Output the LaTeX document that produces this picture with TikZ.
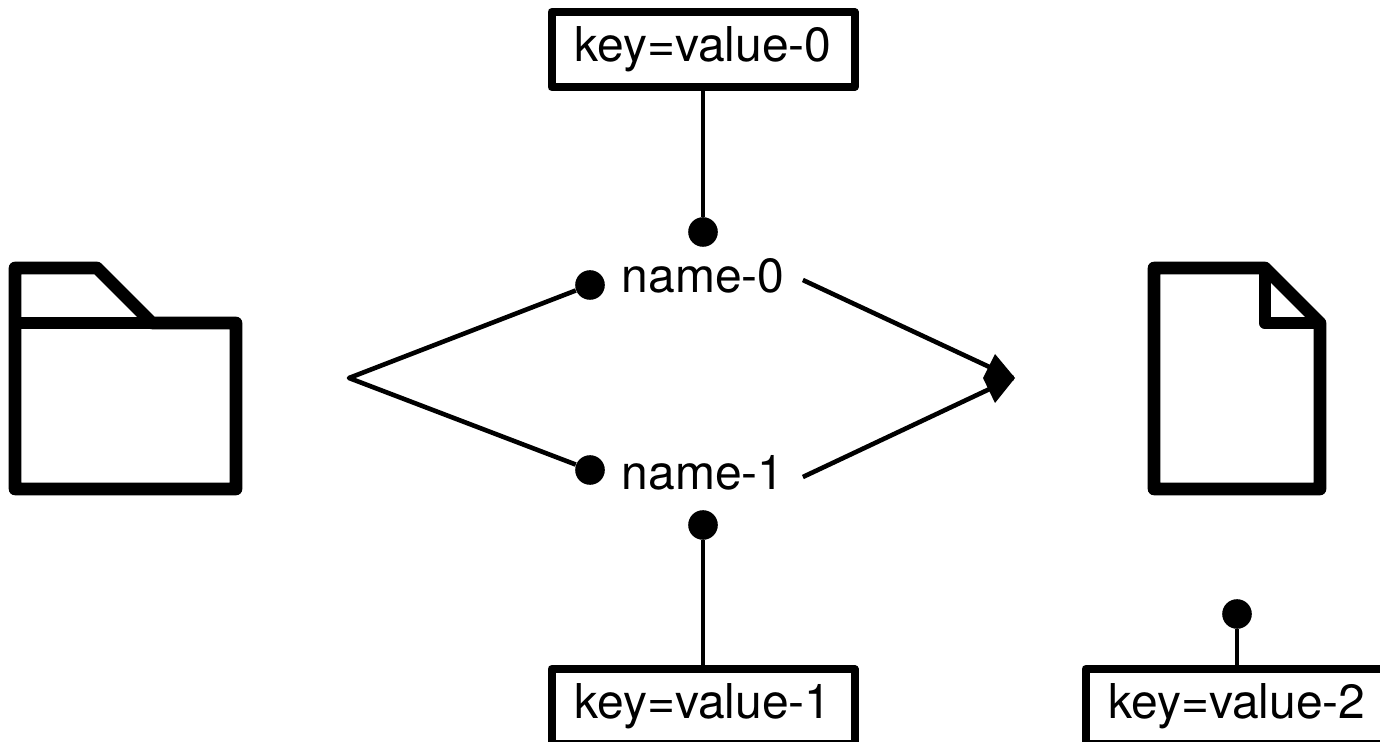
\documentclass[tikz,border=0pt]{standalone}
\usepackage{fontspec}
\setmainfont{TeX Gyre Heros}
\usetikzlibrary{positioning,calc}

\begin{document}
\begin{tikzpicture}
		[x=0.5pt,y=-0.5pt,
		line join=round,
		icon/.style={draw,line width=6.3pt},
		wire/.style={draw,line width=2.3pt},
		namenode/.style={inner xsep=9.25pt,inner ysep=0pt,outer sep=0pt,text height=17pt,text depth=4.5pt,font=\fontsize{24}{28}\selectfont},
		keynode/.style={draw,line width=4pt,inner sep=0pt,minimum width=151.5pt,minimum height=37.5pt,text height=17pt,text depth=5pt,font=\fontsize{24}{28}\selectfont},
		pin/.style={fill=black,circle,inner sep=0pt,minimum size=14.8pt}]
		\clip (0,0) rectangle (1380,742);
		\draw[icon] (15,489) -- (15,268) -- (97,268) -- (152,323) -- (236,323) -- (236,489) -- cycle;
		\draw[icon] (15,323) -- (152,323);
		\draw[icon] (1154,489) -- (1154,268) -- (1265,268) -- (1320,323) -- (1320,489) -- cycle;
		\draw[icon] (1265,268) -- (1265,323) -- (1320,323);
		\node[namenode] (name0) at (703,280) {name-0};
		\node[namenode] (name1) at (703,477) {name-1};
		\node[keynode] (key0) at (703,49.5) {key=value-0};
		\node[keynode] (key1) at (703,706.5) {key=value-1};
		\node[keynode] (key2) at (1237,706.5) {key=value-2};
		\node[pin] (pin0) at (590,285) {};
		\node[pin] (pin1) at (590,470) {};
		\node[pin] (pinkey0) at (703,232) {};
		\node[pin] (pinkey1) at (703,525) {};
		\node[pin] (pinkey2) at (1237,614) {};
		\coordinate (fork) at (349,378);
		\coordinate (join) at (1013,378);
		\draw[wire] (pin0) -- (fork) -- (pin1);
		\draw[wire] (name0.east) -- (join);
		\draw[wire] (name1.east) -- (join);
		\fill (983,378) -- (995,354) -- (1015,378) -- (995,403) -- cycle;
		\draw[wire] (key0) -- (pinkey0);
		\draw[wire] (key1) -- (pinkey1);
		\draw[wire] (key2) -- (pinkey2);
\end{tikzpicture}
\end{document}
